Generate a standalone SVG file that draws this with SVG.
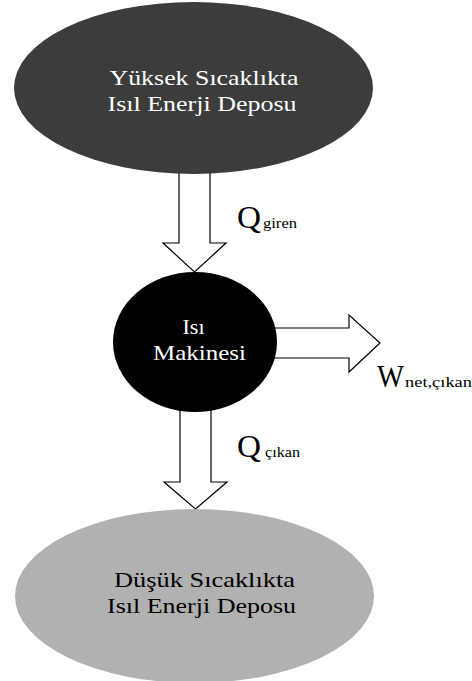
<svg xmlns="http://www.w3.org/2000/svg" width="472" height="681" viewBox="0 0 472 681" font-family="'Liberation Serif', 'Times New Roman', Times, serif">
  <style>
    .lbl { font-size: 22px; text-anchor: middle; }
    .light { fill: #ffffff; }
    .dark { fill: #000000; }
    .flow { fill: #ffffff; stroke: #000000; stroke-width: 1.2; stroke-linejoin: miter; }
    .big { font-size: 31px; fill: #000000; }
    .sub { font-size: 15px; fill: #000000; }
  </style>
  <rect x="0" y="0" width="472" height="681" fill="#ffffff"/>

  <!-- hollow block arrows for energy flows -->
  <g id="connectors">
    <polygon class="flow" points="179,170 210,170 210,243 226,243 194.5,272 163,243 179,243"/>
    <polygon class="flow" points="270,328 349,328 349,315 380,343 349,372 349,358 270,358"/>
    <polygon class="flow" points="180,405 211,405 211,482 227,482 195.5,509 164,482 180,482"/>
  </g>

  <g id="hot-reservoir">
    <ellipse cx="193.5" cy="88" rx="179.5" ry="86" fill="#3c3c3c"/>
    <text class="lbl light" x="204" y="85" textLength="189" lengthAdjust="spacingAndGlyphs">Yüksek Sıcaklıkta</text>
    <text class="lbl light" x="202" y="111" textLength="189" lengthAdjust="spacingAndGlyphs">Isıl Enerji Deposu</text>
  </g>

  <g id="heat-engine">
    <ellipse cx="195" cy="342" rx="82" ry="70" fill="#000000"/>
    <text class="lbl light" x="193.5" y="334">Isı</text>
    <text class="lbl light" x="199.5" y="360" textLength="93" lengthAdjust="spacingAndGlyphs">Makinesi</text>
  </g>

  <g id="cold-reservoir">
    <ellipse cx="194.5" cy="596" rx="179.5" ry="87" fill="#b1b1b1"/>
    <text class="lbl dark" x="204.5" y="587" textLength="181" lengthAdjust="spacingAndGlyphs">Düşük Sıcaklıkta</text>
    <text class="lbl dark" x="201.5" y="613" textLength="189" lengthAdjust="spacingAndGlyphs">Isıl Enerji Deposu</text>
  </g>

  <g id="q-in-label">
    <text class="big" x="237" y="228" textLength="24" lengthAdjust="spacingAndGlyphs">Q</text>
    <text class="sub" x="263" y="228" textLength="34" lengthAdjust="spacingAndGlyphs">giren</text>
  </g>

  <g id="w-out-label">
    <text class="big" x="377" y="387" textLength="27" lengthAdjust="spacingAndGlyphs">W</text>
    <text class="sub" x="405" y="387" textLength="67" lengthAdjust="spacingAndGlyphs">net,çıkan</text>
  </g>

  <g id="q-out-label">
    <text class="big" x="237" y="457" textLength="24" lengthAdjust="spacingAndGlyphs">Q</text>
    <text class="sub" x="265" y="457" textLength="35" lengthAdjust="spacingAndGlyphs">çıkan</text>
  </g>
</svg>
